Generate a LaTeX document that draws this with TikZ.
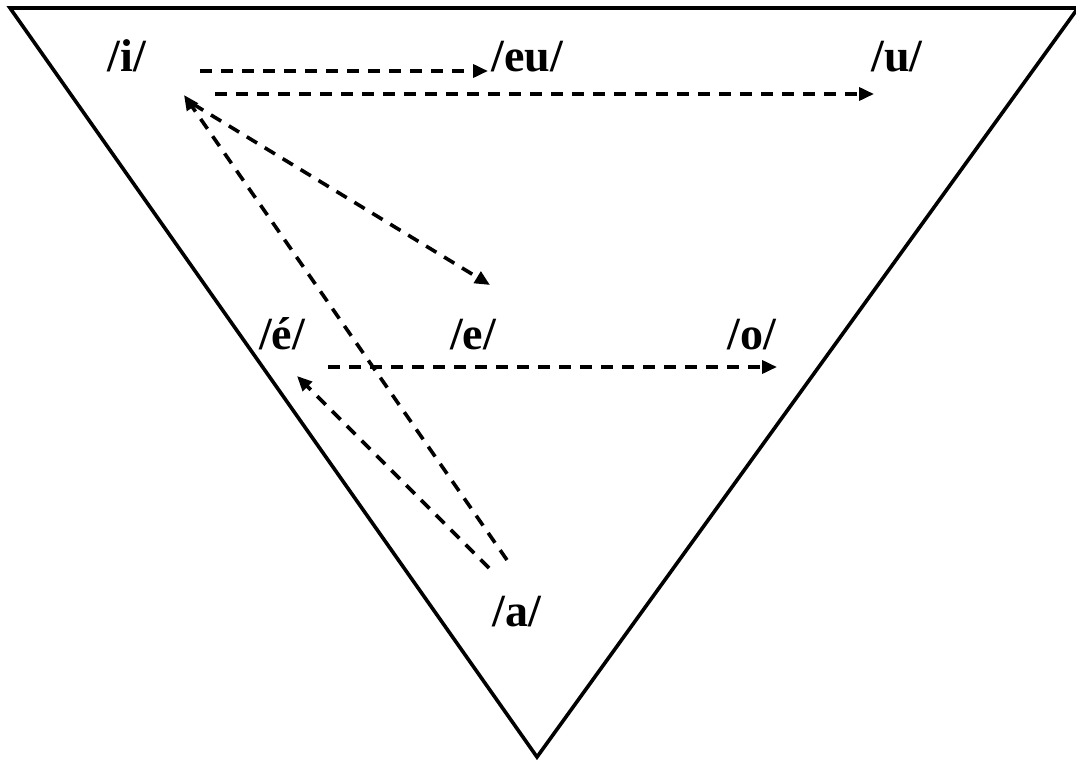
\documentclass[tikz,border=0pt]{standalone}
\usepackage{fontspec}
\setmainfont{Liberation Serif}
\usetikzlibrary{arrows.meta}
\begin{document}
\begin{tikzpicture}[x=1pt,y=-1pt,
  vowel/.style={anchor=base,inner sep=0pt,font=\fontsize{46}{50}\selectfont\bfseries},
  edge/.style={line width=3.6pt,line join=miter},
  darrow/.style={line width=3.6pt,dash pattern=on 12pt off 9pt,-{Triangle[length=15pt,width=13pt]}}]
\useasboundingbox (0,0) rectangle (1076,760);
% triangle
\draw[edge] (10,8) -- (1078,8) -- (537,757) -- cycle;
% vowels
\node[vowel] (i)  at (127,72) {/i/};
\node[vowel] (eu) at (527,72) {/eu/};
\node[vowel] (u)  at (897,72) {/u/};
\node[vowel] (ee) at (282,349) {/é/};
\node[vowel] (e)  at (473,349) {/e/};
\node[vowel] (o)  at (752,349) {/o/};
\node[vowel] (a)  at (517,626) {/a/};
% arrow end points
\coordinate (i1) at (200,71);
\coordinate (eu1) at (488,71);
\coordinate (i2) at (215,94);
\coordinate (u1) at (874,94);
\coordinate (i3) at (193,104);
\coordinate (e1) at (490,285);
\coordinate (i4) at (184,95);
\coordinate (a1) at (507,560);
\coordinate (ee1) at (328,367);
\coordinate (o1) at (777,367);
\coordinate (a2) at (489,568);
\coordinate (ee2) at (297,376);
% arrows
\draw[darrow] (i1) -- (eu1);
\draw[darrow] (i2) -- (u1);
\draw[darrow] (i3) -- (e1);
\draw[darrow] (a1) -- (i4);
\draw[darrow] (ee1) -- (o1);
\draw[darrow] (a2) -- (ee2);
\end{tikzpicture}
\end{document}
